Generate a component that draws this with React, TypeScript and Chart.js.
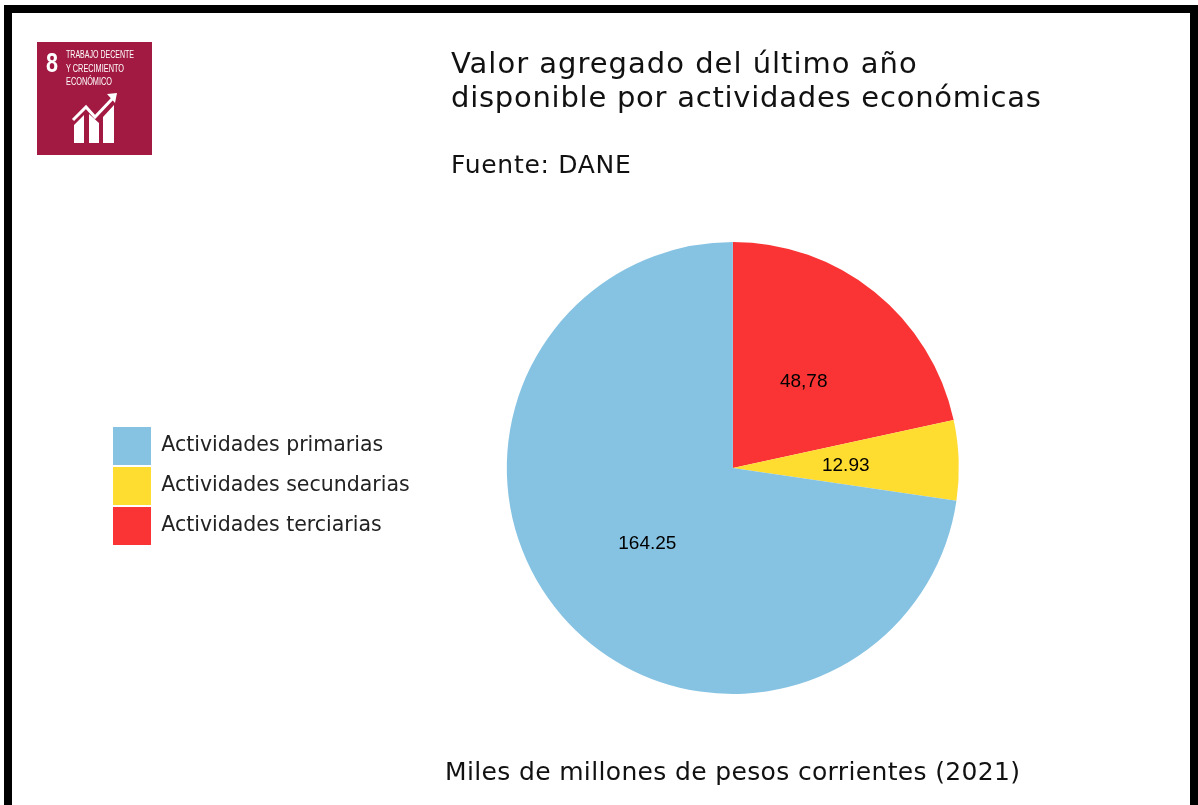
import React, { useEffect, useRef } from "react";
import { Chart, registerables } from "chart.js";

Chart.register(...registerables);

const categories = ["Actividades terciarias", "Actividades secundarias", "Actividades primarias"];
const seriesValues = [48.78, 12.93, 164.25];
const valueLabels = ["48,78", "12.93", "164.25"];
const sliceColors = ["#FA3434", "#FFDC30", "#86C3E3"];
const titleLines = ["Valor agregado del último año", "disponible por actividades económicas"];
const sourceText = "Fuente: DANE";
const footerText = "Miles de millones de pesos corrientes (2021)";
const logoLines = ["TRABAJO DECENTE", "Y CRECIMIENTO", "ECONÓMICO"];

const textFont = '"DejaVu Sans", sans-serif';

const pieLabels = {
  id: "pieLabels",
  afterDatasetsDraw(chart: any) {
    const { ctx } = chart;
    const arcs = chart.getDatasetMeta(0).data;
    ctx.save();
    ctx.font = '19px "Liberation Sans", sans-serif';
    ctx.fillStyle = "#000";
    ctx.textAlign = "center";
    ctx.textBaseline = "middle";
    arcs.forEach((arc: any, i: number) => {
      const p = arc.getCenterPoint();
      ctx.fillText(valueLabels[i], p.x, p.y + 1.5);
    });
    ctx.restore();
  },
};

const moveLegend = {
  id: "moveLegend",
  afterLayout(chart: any) {
    const l = chart.legend;
    if (l) {
      l.top += 18;
      l.bottom += 18;
    }
  },
};

function Logo() {
  return (
    <svg width={115} height={113} style={{ position: "absolute", left: 37, top: 42, filter: "blur(0.6px)" }}>
      <rect width={115} height={113} fill="#A21942" />
      <text x={9} y={30} fontFamily='"Liberation Sans", sans-serif' fontWeight="bold" fontSize={28} fill="#fff" textLength={12} lengthAdjust="spacingAndGlyphs">8</text>
      {logoLines.map((t, i) => (
        <text key={t} x={29} y={16 + i * 13.5} fontFamily='"Liberation Sans", sans-serif' fontSize={10.5} fill="#fff" textLength={i === 0 ? 68 : i === 1 ? 58 : 46} lengthAdjust="spacingAndGlyphs">{t}</text>
      ))}
      <path d="M37 101 V83 L47 73 V101 Z M52 101 V72 L62 81 V101 Z M66 101 V75 L77 63 V101 Z" fill="#fff" />
      <path d="M36 78 L49 65 L58 75 L76 56" stroke="#fff" strokeWidth={3} fill="none" />
      <path d="M70 52 L80 51 L78 61 Z" fill="#fff" />
    </svg>
  );
}

export default function App() {
  const ref = useRef<HTMLCanvasElement>(null);
  useEffect(() => {
    const chart = new Chart(ref.current!, {
      type: "pie",
      data: {
        labels: categories,
        datasets: [{ data: seriesValues, backgroundColor: sliceColors, borderWidth: 0 }],
      },
      options: {
        animation: false,
        responsive: false,
        layout: { padding: { left: 111, right: 152, top: 242, bottom: 111 } },
        plugins: {
          tooltip: { enabled: false },
          legend: {
            position: "left",
            reverse: true,
            labels: {
              boxWidth: 38,
              boxHeight: 38,
              padding: 2,
              color: "#222",
              font: { family: "DejaVu Sans", size: 20.5 },
            },
          },
        },
      },
      plugins: [pieLabels, moveLegend],
    });
    return () => chart.destroy();
  }, []);

  const text = (t: string, left: number, top: number, size: number, spacing: number) => (
    <div key={t} style={{ position: "absolute", left, top, fontFamily: textFont, fontSize: size, letterSpacing: spacing, lineHeight: 1, color: "#111", whiteSpace: "nowrap", filter: "blur(0.4px)" }}>{t}</div>
  );

  return (
    <div style={{ position: "fixed", left: 0, top: 0, width: 1198, height: 805, overflow: "hidden", background: "#fff" }}>
      <canvas ref={ref} width={1198} height={805} style={{ position: "absolute", left: 0, top: 0, width: 1198, height: 805 }} />
      <div style={{ position: "absolute", left: 4, top: 5, width: 1178, height: 800, borderLeft: "8px solid #000", borderRight: "8px solid #000", borderTop: "8px solid #000" }} />
      <Logo />
      {text(titleLines[0], 451, 49, 29, 1)}
      {text(titleLines[1], 451, 83, 29, 0.75)}
      {text(sourceText, 451, 152, 25, 0.7)}
      {text(footerText, 445, 759, 25, 0.35)}
    </div>
  );
}
